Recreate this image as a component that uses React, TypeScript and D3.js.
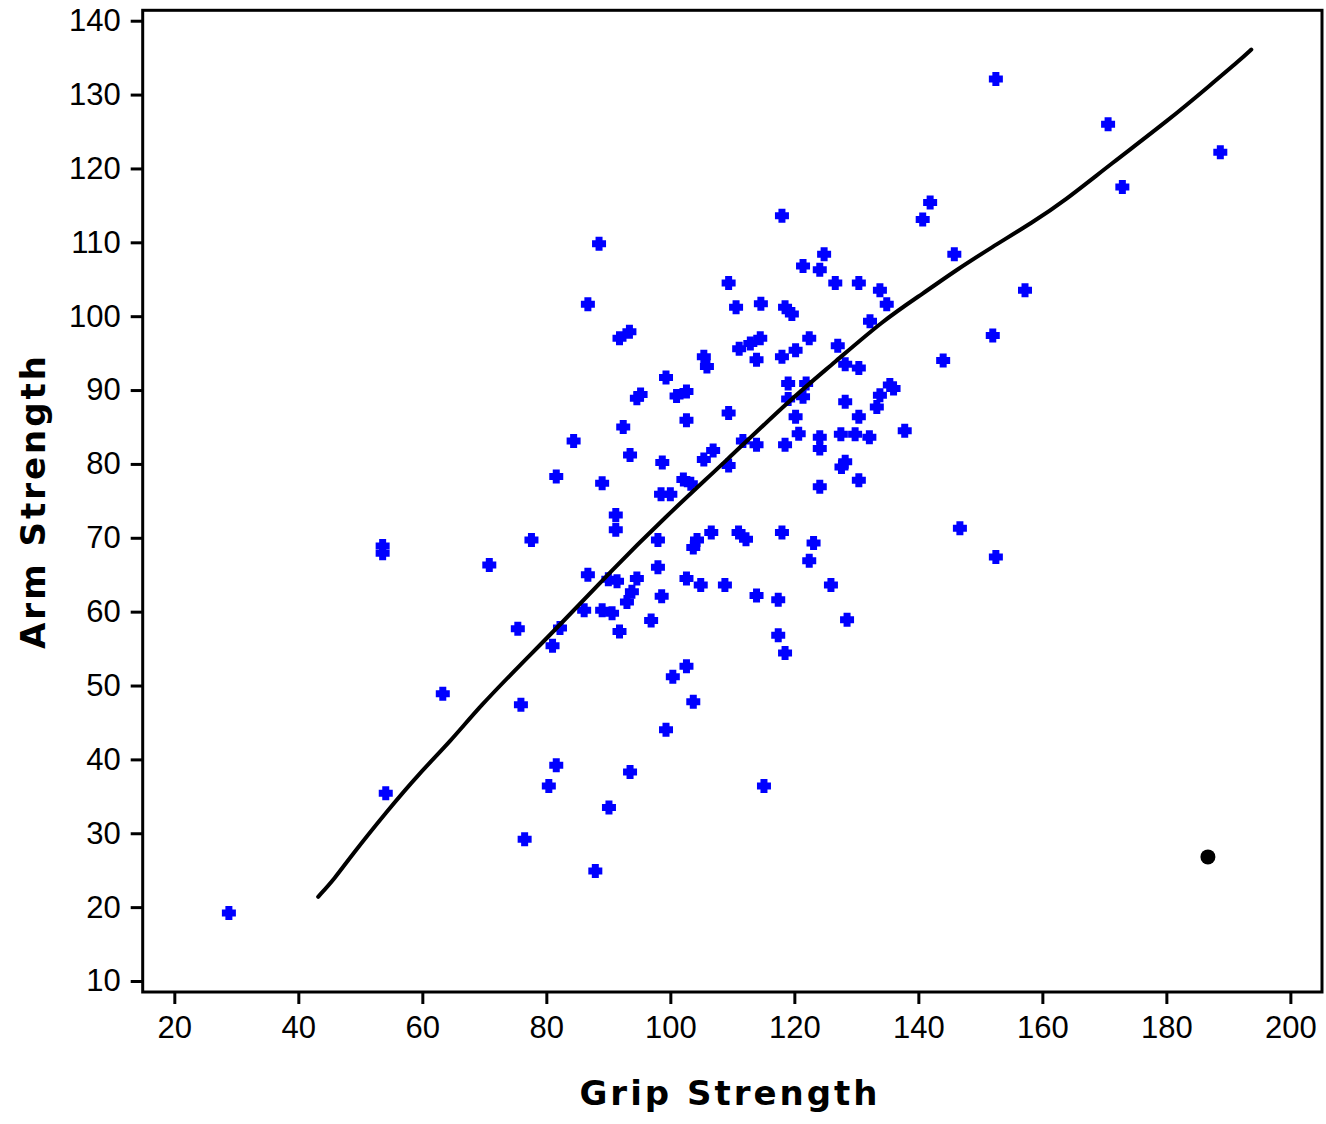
import React, { useEffect, useRef } from 'react';
import * as d3 from 'd3';

// grip strength (x) for each subject
const gripValues = [
    28.8, 54.1, 53.6, 53.6, 70.8, 63.3, 75.4, 75.9, 76.5, 80.4,
    81.6, 81.0, 82.2, 77.6, 81.6, 84.4, 88.5, 86.7, 93.4, 91.8,
    99.3, 94.6, 95.2, 101.0, 102.6, 92.4, 102.6, 93.5, 98.7, 89.0,
    102.1, 103.3, 98.5, 100.0, 91.2, 91.2, 98.0, 104.3, 103.7, 106.6,
    111.0, 112.2, 118.0, 123.1, 122.4, 125.9, 128.5, 98.0, 102.6, 104.9,
    108.8, 113.9, 117.4, 117.4, 118.5, 86.7, 90.0, 91.4, 94.6, 93.8,
    93.0, 98.6, 86.1, 89.0, 90.6, 96.9, 91.8, 100.4, 102.6, 103.7,
    99.3, 93.5, 115.1, 90.1, 87.9, 109.4, 110.6, 114.6, 111.1, 112.9,
    114.5, 105.4, 105.9, 113.9, 109.4, 111.7, 113.9, 106.9, 105.4, 109.4,
    141.9, 140.7, 118.0, 124.8, 121.4, 124.1, 145.8, 126.6, 130.4, 133.8,
    134.9, 157.2, 118.5, 119.6, 132.2, 152.0, 122.4, 120.2, 127.0, 118.0,
    144.0, 128.2, 130.4, 119.0, 121.9, 119.0, 121.4, 135.4, 136.0, 133.8,
    133.3, 128.2, 120.2, 130.4, 137.8, 118.5, 120.7, 124.1, 124.1, 127.5,
    129.8, 132.1, 128.2, 127.6, 130.4, 124.1, 146.7, 152.5, 152.5, 170.6,
    172.9, 188.7
];

// arm strength (y) for each subject, same order
const armValues = [
    19.2, 35.4, 68.9, 67.9, 66.3, 48.9, 57.7, 47.4, 29.2, 36.4,
    39.2, 55.4, 57.8, 69.7, 78.3, 83.1, 109.8, 101.6, 97.9, 97.0,
    91.7, 88.9, 89.4, 89.2, 89.8, 85.0, 85.9, 81.2, 80.2, 77.4,
    77.9, 77.3, 75.9, 75.9, 73.1, 71.1, 69.7, 69.7, 68.7, 70.7,
    70.7, 69.8, 70.7, 69.3, 66.9, 63.6, 58.9, 66.0, 64.5, 63.6,
    63.6, 62.2, 61.6, 56.8, 54.4, 65.0, 64.4, 64.1, 64.5, 62.7,
    61.3, 62.1, 60.2, 60.2, 59.8, 58.8, 57.3, 51.2, 52.6, 47.8,
    44.0, 38.3, 36.4, 33.5, 24.9, 104.5, 101.2, 101.7, 95.6, 96.3,
    97.0, 94.5, 93.2, 94.1, 86.9, 83.1, 82.6, 81.8, 80.6, 79.8,
    115.4, 113.1, 113.6, 108.4, 106.8, 106.3, 108.4, 104.5, 104.5, 103.5,
    101.6, 103.5, 101.2, 100.3, 99.3, 97.4, 97.0, 95.4, 96.0, 94.5,
    94.0, 93.5, 93.0, 90.9, 90.9, 88.8, 89.1, 90.7, 90.2, 89.3,
    87.7, 88.4, 86.4, 86.4, 84.5, 82.6, 84.1, 83.6, 82.1, 84.0,
    84.0, 83.6, 80.3, 79.6, 77.8, 76.9, 71.3, 67.4, 132.1, 126.0,
    117.5, 122.2
];

// the single highlighted (selected) subject
const selectedGrip = [186.7];
const selectedArm = [26.8];

// smoother through the data
const smoothGrip = [43.2, 45.9, 48.3, 54.2, 59.6, 64.5, 69.3, 75.8, 82.2, 90.3, 98.9, 109.1, 119.3, 126.3, 134.4, 140.8, 146.2, 151.6, 158.6, 163.4, 170.9, 180.6, 187.1, 191.9, 193.7];
const smoothArm = [21.4, 23.9, 26.7, 32.9, 38.2, 42.4, 47.2, 52.8, 58.2, 65.4, 72.6, 80.5, 88.7, 93.6, 99.5, 103.1, 106.3, 109.2, 112.8, 115.5, 120.5, 126.7, 131.3, 134.7, 136.1];

const xTicks = [20, 40, 60, 80, 100, 120, 140, 160, 180, 200];
const yTicks = [10, 20, 30, 40, 50, 60, 70, 80, 90, 100, 110, 120, 130, 140];

export default function App() {
    const ref = useRef(null);
    const width = 1326;
    const height = 1124;
    const plot = { left: 142.7, right: 1322, top: 10.3, bottom: 992 };

    const drawChart = () => {
        const chart = d3.select(ref.current);
        chart.selectAll('*').remove();

        const xScale = d3.scaleLinear()
            .domain([14.9, 205.1])
            .range([plot.left, plot.right]);
        const yScale = d3.scaleLinear()
            .domain([8.51, 141.41])
            .range([plot.bottom, plot.top]);

        const tickFont = '"Liberation Sans", Arial, sans-serif';
        const titleFont = '"DejaVu Sans", Verdana, sans-serif';

        // frame
        chart.append('rect')
            .attr('x', plot.left)
            .attr('y', plot.top)
            .attr('width', plot.right - plot.left)
            .attr('height', plot.bottom - plot.top)
            .attr('fill', 'none')
            .attr('stroke', '#000')
            .attr('stroke-width', 3);

        // x axis
        const xAxis = chart.append('g')
            .attr('transform', 'translate(0,' + plot.bottom + ')')
            .call(d3.axisBottom(xScale).tickValues(xTicks).tickSize(12).tickSizeOuter(0).tickPadding(12));
        xAxis.select('.domain').remove();
        xAxis.selectAll('line').attr('stroke', '#000').attr('stroke-width', 3);
        xAxis.selectAll('text')
            .attr('fill', '#000')
            .style('font-family', tickFont)
            .style('font-size', '31px');

        // y axis
        const yAxis = chart.append('g')
            .attr('transform', 'translate(' + plot.left + ',0)')
            .call(d3.axisLeft(yScale).tickValues(yTicks).tickSize(12).tickSizeOuter(0).tickPadding(10));
        yAxis.select('.domain').remove();
        yAxis.selectAll('line').attr('stroke', '#000').attr('stroke-width', 3);
        yAxis.selectAll('text')
            .attr('fill', '#000')
            .style('font-family', tickFont)
            .style('font-size', '31px');

        // points
        const points = d3.zip(gripValues, armValues);
        const plus = 'M-3.5,-7H3.5V-3.5H7V3.5H3.5V7H-3.5V3.5H-7V-3.5H-3.5Z';
        chart.append('g')
            .selectAll('path')
            .data(points)
            .enter().append('path')
            .attr('d', plus)
            .attr('transform', (d) => 'translate(' + xScale(d[0]) + ',' + yScale(d[1]) + ')')
            .attr('fill', '#0000ff');

        // selected point
        chart.append('g')
            .selectAll('circle')
            .data(d3.zip(selectedGrip, selectedArm))
            .enter().append('circle')
            .attr('cx', (d) => xScale(d[0]))
            .attr('cy', (d) => yScale(d[1]))
            .attr('r', 7.5)
            .attr('fill', '#000');

        // smoother
        const line = d3.line()
            .x((d) => xScale(d[0]))
            .y((d) => yScale(d[1]))
            .curve(d3.curveBasis);
        chart.append('path')
            .datum(d3.zip(smoothGrip, smoothArm))
            .attr('d', line)
            .attr('fill', 'none')
            .attr('stroke', '#000')
            .attr('stroke-width', 4)
            .attr('stroke-linecap', 'round');

        // axis titles
        chart.append('text')
            .attr('x', 730)
            .attr('y', 1105)
            .attr('text-anchor', 'middle')
            .style('font-family', titleFont)
            .style('font-weight', 'bold')
            .style('font-size', '34px')
            .style('letter-spacing', '3px')
            .text('Grip Strength');
        chart.append('text')
            .attr('transform', 'translate(45,501) rotate(-90)')
            .attr('text-anchor', 'middle')
            .style('font-family', titleFont)
            .style('font-weight', 'bold')
            .style('font-size', '34px')
            .style('letter-spacing', '3px')
            .text('Arm Strength');
    };

    useEffect(() => {
        document.body.style.margin = '0';
        drawChart();
    }, []);

    return (
        <svg ref={ref} width={width} height={height} style={{ display: 'block', background: '#fff' }}></svg>
    );
}
